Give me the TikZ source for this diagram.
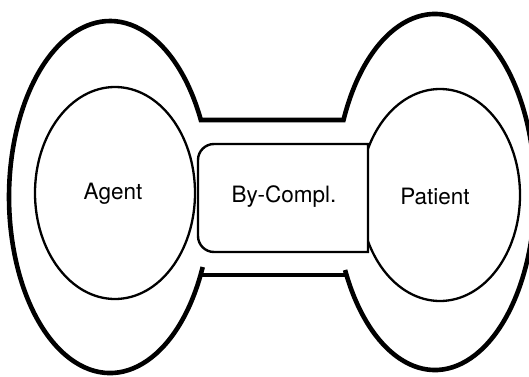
\documentclass[tikz,border=0pt]{standalone}
\usepackage{fontspec}
\setmainfont{TeX Gyre Heros}
\usetikzlibrary{shapes.geometric}
\tikzset{
  lobe/.style={line width=4.6pt, line join=miter},
  role/.style={draw, ellipse, line width=2.3pt, inner sep=0pt,
    minimum width=160pt, minimum height=212pt},
  frame/.style={line width=2.4pt, fill=white},
  lbl/.style={font=\fontsize{22.5}{27}\selectfont, anchor=base, inner sep=0pt},
}
\begin{document}
\begin{tikzpicture}[x=1pt,y=1pt]
\useasboundingbox (0,0) rectangle (529,376);
\clip (0,0) rectangle (529,376);

% end points of the outer dumbbell outline
\coordinate (lbot) at (202.7,109);
\coordinate (rtop) at (343.5,256);
\coordinate (bl) at (200.5,101);
\coordinate (br) at (346.5,101);

% left lobe, upper band edge and right lobe in one stroke
\draw[lobe] (lbot) arc[start angle=-23.43, end angle=-334.06, x radius=101, y radius=176]
  -- (rtop) arc[start angle=156.14, end angle=-154.01, x radius=100, y radius=178];
% lower band edge
\draw[lobe] (bl) -- (br);

% role ellipses
\node[role] (agent) at (115,183) {};
\node[role] (patient) at (440,181) {};

% complement box, rounded on the left only, laid over the patient ellipse
\draw[frame] (368,124) -- (368,232) -- (214,232)
  arc[start angle=90, end angle=180, radius=16] -- (198,140)
  arc[start angle=180, end angle=270, radius=16] -- cycle;

% labels
\node[lbl] (agentlbl) at (113,176.7) {Agent};
\node[lbl] (bylbl) at (284,174) {By-Compl.};
\node[lbl] (patientlbl) at (435,172) {Patient};
\end{tikzpicture}
\end{document}
